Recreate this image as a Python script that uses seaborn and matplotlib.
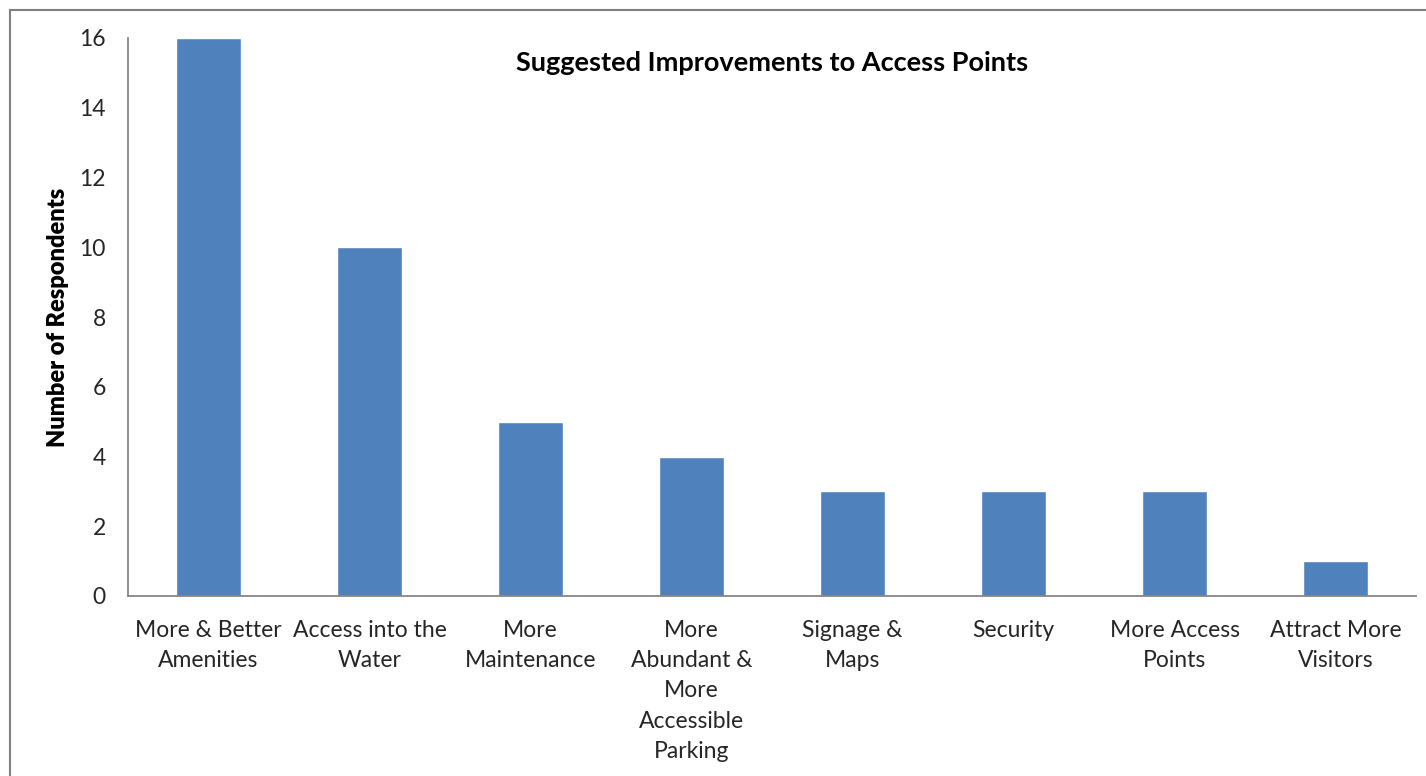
import matplotlib
matplotlib.use('Agg')
import matplotlib.pyplot as plt
import numpy as np
import pandas as pd
import seaborn as sns
from matplotlib.patches import Rectangle

categories = ['More & Better\nAmenities', 'Access into the\nWater', 'More\nMaintenance',
              'More\nAbundant &\nMore\nAccessible\nParking', 'Signage &\nMaps', 'Security',
              'More Access\nPoints', 'Attract More\nVisitors']
respondents = [16, 10, 5, 4, 3, 3, 3, 1]
yticks = [0, 2, 4, 6, 8, 10, 12, 14, 16]

title = 'Suggested Improvements to Access Points'
ylabel = 'Number of Respondents'

sns.set_style('white')
plt.rcParams['font.family'] = ['Lato', 'DejaVu Sans']

df = pd.DataFrame({'cat': categories, 'n': respondents})

fig = plt.figure(figsize=(14.26, 7.76), dpi=100)
ax = fig.add_axes([128/1426, 1 - 596/776, (1416-128)/1426, (596-38)/776])

sns.barplot(data=df, x='cat', y='n', color='#4F81BD', width=0.4, saturation=1, ax=ax)

grey = '#868686'
n = len(categories)
ax.set_xlim(-0.5, n - 0.5)
ax.set_ylim(0, 16)
ax.set_yticks(yticks)
ax.set_yticklabels([str(v) for v in yticks], fontsize=16.5, color='#262626')

# category boundaries as major ticks, labels on minor ticks at bar centres
ax.set_xticks(np.arange(n + 1) - 0.5)
ax.set_xticklabels([''] * (n + 1))
ax.set_xticks(np.arange(n), minor=True)
ax.set_xticklabels(categories, minor=True, fontsize=16.5, color='#262626', linespacing=1.55)
ax.tick_params(axis='x', which='minor', length=0, pad=17)
ax.tick_params(axis='x', which='major', length=8, width=1.2, color=grey, direction='out')
ax.tick_params(axis='y', length=8, width=1.2, color=grey, direction='out', pad=8)

for s in ['top', 'right']:
    ax.spines[s].set_visible(False)
for s in ['left', 'bottom']:
    ax.spines[s].set_color(grey)
    ax.spines[s].set_linewidth(1.3)

ax.set_xlabel('')
ax.set_ylabel('')
ax.text(-0.054, 0.5, ylabel, transform=ax.transAxes, rotation=90, ha='center', va='center',
        fontsize=17, fontweight='heavy', color='black')
ax.text(0.5, 0.955, title, transform=ax.transAxes, ha='center', va='center',
        fontsize=19.5, fontweight='bold', color='black')

# outer chart border
fig.patches.append(Rectangle((10/1426, -0.05), 1.2, 1.05 - 10/776, fill=False,
                             edgecolor='#7f7f7f', linewidth=1.5, transform=fig.transFigure,
                             figure=fig))

fig.savefig('out.png', dpi=100)
